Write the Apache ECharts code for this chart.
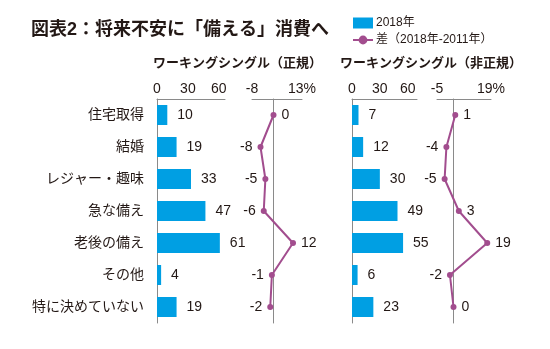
<!DOCTYPE html>
<html><head><meta charset="utf-8">
<script src="https://cdn.jsdelivr.net/npm/echarts@6/dist/echarts.min.js"></script>
<style>html,body{margin:0;padding:0;background:#fff}#c{width:550px;height:349px}</style>
</head><body><div id="c"></div>
<script>
// ---- data ----
const categories = ['住宅取得','結婚','レジャー・趣味','急な備え','老後の備え','その他','特に決めていない'];
const regular2018 = [10, 19, 33, 47, 61, 4, 19];
const regularDiff = [0, -8, -5, -6, 12, -1, -2];
const nonRegular2018 = [7, 12, 30, 49, 55, 6, 23];
const nonRegularDiff = [1, -4, -5, 3, 19, -2, 0];
const barTicks = [0, 30, 60];
const regularDiffTicks = [-8, 13];
const nonRegularDiffTicks = [-5, 19];
const titleText = '図表2：将来不安に「備える」消費へ';
const panelTitles = ['ワーキングシングル（正規）', 'ワーキングシングル（非正規）'];
const seriesNames = ['2018年', '差（2018年-2011年）'];

// ---- style ----
const FONT = '"Liberation Sans","Noto Sans CJK JP",sans-serif';
const BLUE = '#009fe3';
const PURPLE = '#a24d8e';
const AXIS = '#8a8a8a';
const TXT = '#231815';
const TOP = 99, H = 224;

function diffData(arr){
  return arr.map(v => ({value: v, label: {position: v >= 0 ? 'right' : 'left'}}));
}
function headerAxis(gridIndex, min, max, ticks, pct){
  return {
    gridIndex, type: 'value', position: 'top', min, max,
    axisLine: {show: true, onZero: false, lineStyle: {color: AXIS, width: 1}},
    axisTick: {show: false}, splitLine: {show: false},
    axisLabel: {show: true, customValues: ticks, margin: 3, color: TXT, fontSize: 14, fontFamily: FONT,
      formatter: v => ticks.indexOf(v) === -1 ? '' : (pct && v === ticks[ticks.length-1] ? v + '%' : String(v))}
  };
}
function hiddenValueAxis(gridIndex, min, max){
  return {gridIndex, type: 'value', min, max, show: true,
    axisLine: {show: false, onZero: false}, axisTick: {show: false}, axisLabel: {show: false}, splitLine: {show: false}};
}
function catAxis(gridIndex, showLabels, showLine, onZero){
  return {gridIndex, type: 'category', data: categories, inverse: true,
    axisLine: {show: showLine, onZero: !!onZero, lineStyle: {color: AXIS, width: 1}},
    axisTick: {show: false}, splitLine: {show: false},
    axisLabel: {show: showLabels, margin: 13, color: TXT, fontSize: 14, fontFamily: FONT}};
}

const chart = echarts.init(document.getElementById('c'), null, {renderer: 'canvas'});
chart.setOption({
  backgroundColor: '#fff',
  animation: false,
  title: [
    {text: titleText, left: 26, top: 16, textStyle: {fontSize: 18, fontWeight: 'bold', color: TXT, fontFamily: FONT}},
    {text: panelTitles[0], left: 148, top: 52, textStyle: {fontSize: 13, fontWeight: 'bold', color: TXT, fontFamily: FONT}},
    {text: panelTitles[1], left: 335, top: 52, textStyle: {fontSize: 13, fontWeight: 'bold', color: TXT, fontFamily: FONT}}
  ],
  legend: {
    orient: 'vertical', left: 347, top: 12, itemWidth: 20, itemHeight: 11, itemGap: 5,
    data: [{name: seriesNames[0], icon: 'rect'}, {name: seriesNames[1]}],
    textStyle: {fontSize: 12, color: TXT, fontFamily: FONT, padding: [0,0,0,-2]}
  },
  grid: [
    {left: 157, top: TOP, width: 68, height: H},   // left bars
    {left: 241, top: TOP, width: 65, height: H},   // left diff
    {left: 352, top: TOP, width: 65, height: H},   // right bars
    {left: 418, top: TOP, width: 71, height: H},   // right diff
    {left: 252, top: TOP, width: 50, height: H},   // left diff header
    {left: 437, top: TOP, width: 54, height: H}    // right diff header
  ],
  xAxis: [
    headerAxis(0, 0, 66, barTicks, false),
    hiddenValueAxis(1, -20, 20),
    headerAxis(2, 0, 70, barTicks, false),
    hiddenValueAxis(3, -20, 20),
    headerAxis(4, regularDiffTicks[0], regularDiffTicks[1], regularDiffTicks, true),
    headerAxis(5, nonRegularDiffTicks[0], nonRegularDiffTicks[1], nonRegularDiffTicks, true)
  ],
  yAxis: [
    catAxis(0, true, true, false),
    catAxis(1, false, true, true),
    catAxis(2, false, true, false),
    catAxis(3, false, true, true),
    {gridIndex: 4, type: 'value', show: false},
    {gridIndex: 5, type: 'value', show: false}
  ],
  series: [
    {name: seriesNames[0], type: 'bar', xAxisIndex: 0, yAxisIndex: 0, data: regular2018, barWidth: 20,
      itemStyle: {color: BLUE},
      label: {show: true, position: 'right', distance: 10, color: TXT, fontSize: 14, fontFamily: FONT}},
    {name: seriesNames[1], type: 'line', xAxisIndex: 1, yAxisIndex: 1, data: diffData(regularDiff),
      symbol: 'circle', symbolSize: 6, lineStyle: {color: PURPLE, width: 2}, itemStyle: {color: PURPLE},
      label: {show: true, distance: 5, color: TXT, fontSize: 14, fontFamily: FONT}},
    {name: seriesNames[0], type: 'bar', xAxisIndex: 2, yAxisIndex: 2, data: nonRegular2018, barWidth: 20,
      itemStyle: {color: BLUE},
      label: {show: true, position: 'right', distance: 10, color: TXT, fontSize: 14, fontFamily: FONT}},
    {name: seriesNames[1], type: 'line', xAxisIndex: 3, yAxisIndex: 3, data: diffData(nonRegularDiff),
      symbol: 'circle', symbolSize: 6, lineStyle: {color: PURPLE, width: 2}, itemStyle: {color: PURPLE},
      label: {show: true, distance: 5, color: TXT, fontSize: 14, fontFamily: FONT}}
  ]
});
</script></body></html>
